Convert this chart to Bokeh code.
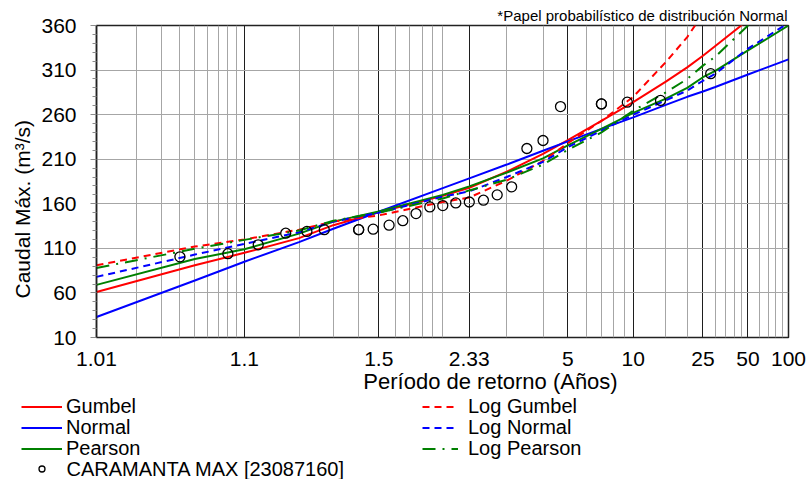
from statistics import NormalDist
from bokeh.plotting import figure
from bokeh.layouts import column
from bokeh.models import FixedTicker, Legend, LegendItem, Label, Range1d, Title
from bokeh.embed import file_html
from bokeh.resources import INLINE

# ---------------- data ----------------
T_curve = [1.01, 1.05, 1.1, 1.2, 1.3, 1.5, 2, 2.33, 3, 4, 5, 7, 10, 15, 20, 25, 30, 50, 100]
gumbel = [61, 91, 105, 121.5, 136, 150.5, 169, 178, 196, 216, 231.5, 253, 274, 297, 313, 326, 337, 366, 405]
normal = [33, 74, 95, 117, 132, 151, 177.5, 188.5, 204, 219.5, 230, 244, 257, 271, 280, 286, 291, 305, 322]
pearson = [69, 98, 109, 126.5, 140, 151.5, 170, 179.5, 195, 211, 225.5, 244, 262, 278, 290, 302, 309, 332, 360]
log_gumbel = [91, 112, 120, 131, 140, 147, 162, 167, 186, 208, 228, 253, 280, 319, 347, 373, 395, 470, 600]
log_normal = [78, 103, 115, 128, 140, 150, 168, 174, 190, 207, 223.5, 242, 260, 276, 287, 298, 306, 334, 363]
log_pearson = [88, 109.5, 119.5, 130, 141, 150, 166, 175, 187, 204, 220.5, 240, 264.5, 285, 300, 315, 325, 360, 410]

obs_T = [28.0, 14.0, 9.33, 7.0, 7.0, 4.67, 4.0, 3.5, 3.11, 2.8, 2.55, 2.33, 2.15, 2.0,
         1.87, 1.75, 1.65, 1.56, 1.47, 1.4, 1.4, 1.27, 1.22, 1.17, 1.12, 1.08, 1.04]
obs_Q = [306, 276, 274, 272, 272, 269, 231, 222, 179, 170, 164, 162, 161, 158,
         156.5, 149, 141, 136, 131.5, 131, 131, 131, 129, 127, 114, 104, 100.5]

tick_T = [1.01, 1.1, 1.5, 2.33, 5, 10, 25, 50, 100]
tick_labels = ["1.01", "1.1", "1.5", "2.33", "5", "10", "25", "50", "100"]
dark_grid_T = [1.1, 1.5, 2.33, 5, 10, 25, 50]
minor_grid_T = [1.02, 1.03, 1.04, 1.05, 1.06, 1.07, 1.08, 1.09, 1.2, 1.3, 1.4,
                1.6, 1.7, 1.8, 1.9, 2.0, 3, 4, 6, 7, 8, 9, 15, 20, 30, 35, 40, 45,
                60, 70, 80, 90]
y_ticks = [10, 60, 110, 160, 210, 260, 310, 360]
y_grid = [60, 110, 160, 210, 260, 310]
y_minor = [v for v in range(20, 360, 10) if v not in y_ticks]

# ---------------- scale: normal probability paper ----------------
nd = NormalDist()


def tz(T):
    return nd.inv_cdf(1.0 - 1.0 / T)


FONT = "Liberation Sans"
FW, FH = 692, 312
TOP, BOTTOM = 25, 38
OVERLAP = 10

p = figure(frame_width=FW, frame_height=FH,
           min_border_left=96, min_border_right=19, min_border_top=TOP, min_border_bottom=BOTTOM,
           x_range=Range1d(tz(1.01), tz(100)), y_range=Range1d(10, 360),
           output_backend="svg", toolbar_location=None)
p.frame_align = False
p.background_fill_color = "white"
p.border_fill_color = "white"
p.outline_line_color = "#222222"
p.outline_line_width = 1.5

# grids
p.xgrid.ticker = FixedTicker(ticks=[tz(t) for t in dark_grid_T],
                             minor_ticks=[tz(t) for t in minor_grid_T])
p.xgrid.grid_line_color = "#1e1e1e"
p.xgrid.grid_line_width = 1
p.xgrid.minor_grid_line_color = "#a6a6a6"
p.xgrid.minor_grid_line_width = 1
p.ygrid.ticker = FixedTicker(ticks=y_grid)
p.ygrid.grid_line_color = "#a6a6a6"
p.ygrid.grid_line_width = 1

# x axis
xt = [tz(t) for t in tick_T]
p.xaxis.ticker = FixedTicker(ticks=xt)
p.xaxis.major_label_overrides = {v: s for v, s in zip(xt, tick_labels)}
p.xaxis.major_tick_line_color = None
p.xaxis.minor_tick_line_color = None
p.xaxis.major_tick_out = 0
p.xaxis.axis_line_color = None
p.xaxis.major_label_standoff = 14
p.xaxis.major_label_text_font = FONT
p.xaxis.major_label_text_font_size = "21px"
p.xaxis.major_label_text_color = "black"

# y axis
p.yaxis.ticker = FixedTicker(ticks=y_ticks, minor_ticks=y_minor)
p.yaxis.major_tick_out = 6
p.yaxis.major_tick_in = 0
p.yaxis.minor_tick_out = 4
p.yaxis.minor_tick_in = 0
p.yaxis.major_tick_line_color = "#8c8c8c"
p.yaxis.minor_tick_line_color = "#8c8c8c"
p.yaxis.axis_line_color = "#222222"
p.yaxis.axis_line_width = 1.5
p.yaxis.major_label_standoff = 14
p.yaxis.major_label_text_font = FONT
p.yaxis.major_label_text_font_size = "21px"
p.yaxis.major_label_text_color = "black"

# titles around the frame
p.add_layout(Title(text="Caudal Máx. (m³/s)", align="left", offset=39, standoff=10,
                   text_font=FONT, text_font_size="21px", text_font_style="normal",
                   text_color="black"), "left")
p.add_layout(Title(text="*Papel probabilístico de distribución Normal", align="right",
                   offset=1, standoff=4, text_font=FONT, text_font_size="15px",
                   text_font_style="normal", text_color="black"), "above")

# curves
xc = [tz(t) for t in T_curve]
W = 2
STY = {
    "g": dict(line_color="#ff0000", line_width=W),
    "n": dict(line_color="#0000ff", line_width=W),
    "p": dict(line_color="#008000", line_width=W),
    "lg": dict(line_color="#ff0000", line_width=W, line_dash="7 5"),
    "ln": dict(line_color="#0000ff", line_width=W, line_dash="7 5"),
    "lp": dict(line_color="#008000", line_width=W, line_dash="13 7 2 7"),
}
OBS = dict(marker="circle", fill_color=None, line_color="black", line_width=1.3)
p.line(xc, gumbel, **STY["g"])
p.line(xc, normal, **STY["n"])
p.line(xc, pearson, **STY["p"])
p.line(xc, log_gumbel, **STY["lg"])
p.line(xc, log_normal, **STY["ln"])
p.line(xc, log_pearson, **STY["lp"])
p.scatter([tz(t) for t in obs_T], obs_Q, size=10, **OBS)

# ---------------- lower strip: x-axis title and legend ----------------
top = TOP + FH + BOTTOM - OVERLAP     # page y where the (transparent) strip starts
H = 479 - top
lf = figure(width=807, height=H, min_border=0,
            x_range=Range1d(0, 807), y_range=Range1d(479, top),
            x_axis_location=None, y_axis_location=None,
            output_backend="svg", toolbar_location=None)
lf.margin = (-OVERLAP, 0, 0, 0)
lf.frame_align = False
lf.grid.visible = False
lf.outline_line_color = None
lf.background_fill_alpha = 0
lf.border_fill_alpha = 0

lf.add_layout(Label(x=490, y=381, text="Período de retorno (Años)", text_align="center",
                    text_baseline="middle", text_font=FONT, text_font_size="22px",
                    text_color="black"))

nan = float("nan")
d_g = lf.line([nan], [nan], **STY["g"])
d_n = lf.line([nan], [nan], **STY["n"])
d_p = lf.line([nan], [nan], **STY["p"])
d_lg = lf.line([nan], [nan], **STY["lg"])
d_ln = lf.line([nan], [nan], **STY["ln"])
d_lp = lf.line([nan], [nan], **STY["lp"])
d_obs = lf.scatter([nan], [nan], size=6, **OBS)

LH = 21
LFONT = "20px"


def row_legend(label, rend, x, cy, gw, standoff, gh=LH, font=LFONT):
    lg = Legend(items=[LegendItem(label=label, renderers=[rend])],
                location=(x, H - (cy - top + gh / 2)), orientation="vertical")
    lg.glyph_width = gw
    lg.glyph_height = gh
    lg.label_height = gh
    lg.label_standoff = standoff
    lg.spacing = 0
    lg.padding = 0
    lg.margin = 0
    lg.border_line_color = None
    lg.background_fill_alpha = 0
    lg.label_text_font = FONT
    lg.label_text_font_size = font
    lg.label_text_color = "black"
    lf.add_layout(lg)


rows = [407.5, 428.5, 449, 468]
row_legend("Gumbel", d_g, 21, rows[0], 41, 4)
row_legend("Normal", d_n, 21, rows[1], 41, 4)
row_legend("Pearson", d_p, 21, rows[2], 41, 4)
row_legend(" ", d_obs, 21, rows[3], 41, 4, gh=15, font="1px")
lf.add_layout(Label(x=66, y=rows[3], text="CARAMANTA MAX [23087160]", text_align="left",
                    text_baseline="middle", text_font=FONT, text_font_size=LFONT,
                    text_color="black"))
row_legend("Log Gumbel", d_lg, 422, rows[0], 36, 10)
row_legend("Log Normal", d_ln, 422, rows[1], 36, 10)
row_legend("Log Pearson", d_lp, 422, rows[2], 36, 10)

open("out.html", "w").write(file_html(column(p, lf, spacing=0), INLINE))
